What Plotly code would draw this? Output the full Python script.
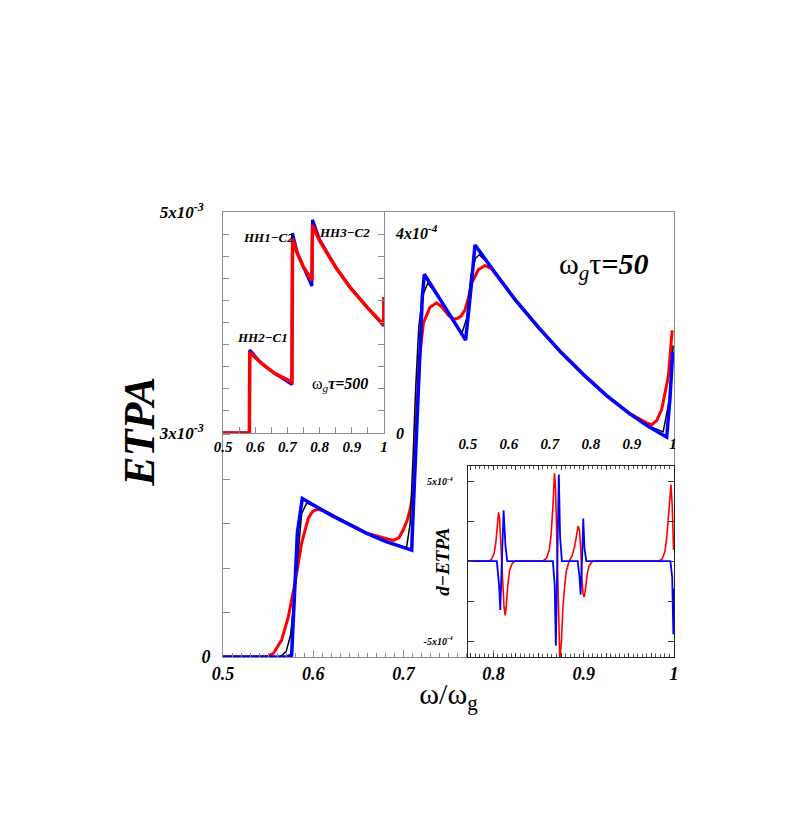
import plotly.graph_objects as go

# main panel, omega_g*tau = 50 (ETPA in units of 1e-4)
w_red = [0.50, 0.5484, 0.5558, 0.565, 0.5724, 0.5798, 0.5872, 0.5946, 0.599, 0.6039, 0.610, 0.620,
         0.640, 0.6593, 0.6814, 0.6888, 0.6950, 0.6999, 0.7040, 0.7073, 0.7100, 0.7120, 0.7140,
         0.7173, 0.7221, 0.7295, 0.7369, 0.7430, 0.7498, 0.7550, 0.7591, 0.7640, 0.7683, 0.7720,
         0.7757, 0.7830, 0.7905, 0.7980, 0.8250, 0.850, 0.875, 0.900, 0.925, 0.950,
         0.9697, 0.9753, 0.9810, 0.9863, 0.9937, 0.998]
etpa_red = [0, 0, 0.04, 0.19, 0.45, 0.83, 1.28, 1.56, 1.63, 1.66, 1.65, 1.60,
            1.49, 1.39, 1.33, 1.31, 1.34, 1.43, 1.53, 1.65, 1.80, 2.00, 2.55,
            3.30, 3.75, 3.93, 3.98, 3.93, 3.84, 3.80, 3.80, 3.83, 3.90, 4.03,
            4.20, 4.35, 4.40, 4.36, 4.00, 3.70, 3.42, 3.17, 2.94, 2.74,
            2.63, 2.61, 2.66, 2.78, 3.15, 3.67]

w_black = [0.50, 0.563, 0.570, 0.575, 0.578, 0.5835, 0.5872, 0.5928, 0.600, 0.6223, 0.640, 0.6593,
           0.680, 0.700, 0.7036, 0.7075, 0.7105, 0.7135, 0.717, 0.721, 0.727, 0.735, 0.755, 0.765,
           0.770, 0.775, 0.780, 0.784, 0.792, 0.825, 0.850, 0.875, 0.900, 0.925, 0.950, 0.970,
           0.978, 0.988, 0.995, 0.999]
etpa_black = [0, 0, 0.06, 0.25, 0.57, 1.17, 1.61, 1.73, 1.70, 1.58, 1.49, 1.39,
              1.30, 1.24, 1.24, 1.50, 2.20, 3.00, 3.70, 4.05, 4.20, 4.10, 3.78, 3.64,
              3.80, 4.30, 4.48, 4.52, 4.44, 4.00, 3.70, 3.42, 3.17, 2.94, 2.74, 2.60,
              2.57, 2.53, 2.90, 3.50]

w_blue = [0.50, 0.570, 0.5761, 0.5790, 0.5825, 0.5879, 0.6050, 0.6223, 0.6400, 0.6593, 0.6800, 0.7000,
          0.7092, 0.7103, 0.7140, 0.7175, 0.7210, 0.7232, 0.7400, 0.7550, 0.7690, 0.7745, 0.7794,
          0.8000, 0.8250, 0.8500, 0.8750, 0.9000, 0.9250, 0.9500, 0.9700, 0.9919, 0.9955, 0.9986]
etpa_blue = [0, 0, 0.02, 0.60, 1.40, 1.78, 1.68, 1.58, 1.49, 1.39, 1.30, 1.23,
             1.20, 1.50, 2.40, 3.30, 4.05, 4.30, 4.03, 3.79, 3.56, 4.10, 4.63,
             4.34, 4.00, 3.70, 3.42, 3.17, 2.94, 2.74, 2.60, 2.47, 2.90, 3.43]

# upper-left inset, omega_g*tau = 500 (units of 1e-3)
w_in = [0.50, 0.582, 0.583, 0.620, 0.660, 0.714, 0.716, 0.730, 0.750, 0.776, 0.778,
        0.800, 0.850, 0.894, 0.950, 0.999, 1.000]
etpa_in_red = [3.00, 3.00, 3.73, 3.63, 3.54, 3.46, 4.76, 4.63, 4.50, 4.38, 4.88,
               4.74, 4.50, 4.32, 4.13, 3.98, 4.23]
etpa_in_blue = [3.00, 3.00, 3.75, 3.63, 3.54, 3.44, 4.81, 4.64, 4.50, 4.33, 4.93,
                4.75, 4.50, 4.32, 4.13, 3.97, 4.23]

# lower-right inset, d-ETPA (units of 1e-4)
w_d_red = [0.772, 0.795, 0.798, 0.801, 0.803, 0.8045, 0.8059, 0.807, 0.808, 0.809, 0.810, 0.811,
           0.812, 0.8133, 0.8145, 0.816, 0.818, 0.821, 0.824,
           0.855, 0.859, 0.862, 0.864, 0.866, 0.8678, 0.869, 0.870, 0.8715, 0.8737, 0.8755,
           0.877, 0.879, 0.881, 0.884, 0.887, 0.890, 0.892, 0.894, 0.8955, 0.897, 0.898,
           0.8993, 0.9007, 0.902, 0.904, 0.906, 0.910,
           0.983, 0.987, 0.990, 0.992, 0.994, 0.9955, 0.9967, 0.998, 0.9995]
d_red = [0, 0, 0.1, 0.5, 1.2, 2.2, 3.06, 2.7, 1.6, 0.5, -0.5, -1.8,
         -2.9, -3.4, -2.8, -1.6, -0.6, -0.15, 0,
         0, 0.2, 0.7, 1.6, 3.4, 5.5, 4.5, 2.5, -2.0, -6.2, -5.0,
         -3.0, -1.6, -0.6, 0, 0.3, 0.9, 1.6, 2.2, 1.9, 0.6, -1.0,
         -2.0, -2.25, -1.8, -0.8, -0.3, 0,
         0, 0.15, 0.6, 1.5, 3.0, 4.2, 4.8, 3.5, 0.7]
w_d_blue = [0.772, 0.804, 0.8065, 0.8078, 0.809, 0.810, 0.8115, 0.8135, 0.8155,
            0.866, 0.868, 0.8693, 0.8705, 0.8715, 0.8726, 0.874, 0.876,
            0.8935, 0.8955, 0.8967, 0.898, 0.8985, 0.8996, 0.901, 0.903,
            0.996, 0.998, 0.9993, 1.0]
d_blue = [0, 0, -1.5, -3.06, -1.0, 1.0, 3.19, 1.0, 0,
          0, -1.5, -5.29, -1.0, 1.5, 5.42, 1.5, 0,
          0, -1.0, -2.1, -0.5, 0.5, 2.67, 0.8, 0,
          0, -1.0, -4.58, -1.71]

x_ticks = [0.5, 0.6, 0.7, 0.8, 0.9, 1.0]
x_ticktext = ['0.5', '0.6', '0.7', '0.8', '0.9', '1']

serif = 'Liberation Serif'
bi = dict(family=serif, color='black', weight='bold', style='italic')
grey = '#8c8c8c'

fig = go.Figure()

fig.add_trace(go.Scatter(x=w_red, y=etpa_red, mode='lines', line=dict(color='#ff0000', width=3)))
fig.add_trace(go.Scatter(x=w_black, y=etpa_black, mode='lines', line=dict(color='black', width=1.5)))
fig.add_trace(go.Scatter(x=w_blue, y=etpa_blue, mode='lines', line=dict(color='#0000ff', width=3.5)))

fig.add_trace(go.Scatter(x=w_in, y=etpa_in_blue, mode='lines', line=dict(color='#0000ff', width=3),
                         xaxis='x2', yaxis='y2'))
fig.add_trace(go.Scatter(x=w_in, y=etpa_in_red, mode='lines', line=dict(color='#ff0000', width=3.5),
                         xaxis='x2', yaxis='y2'))

fig.add_trace(go.Scatter(x=w_d_red, y=d_red, mode='lines', line=dict(color='#ff0000', width=1.6),
                         xaxis='x3', yaxis='y3'))
fig.add_trace(go.Scatter(x=w_d_blue, y=d_blue, mode='lines', line=dict(color='#0000ff', width=1.8),
                         xaxis='x3', yaxis='y3'))

fig.add_trace(go.Scatter(x=[], y=[], xaxis='x4', yaxis='y4'))

main_y_ticks = [0, 0.5, 1.0, 1.5, 2.0, 2.5]
in_y_ticks = [3.0, 3.2, 3.4, 3.6, 3.8, 4.0, 4.2, 4.4, 4.6, 4.8, 5.0]
d_y_ticks = [-5, -2.5, 0, 2.5, 5]

# the page body adds 8px around the figure
fig.update_layout(
    width=774, height=801,
    margin=dict(l=215, r=108, t=204, b=152),
    plot_bgcolor='rgba(0,0,0,0)', paper_bgcolor='white',
    showlegend=False,
    xaxis=dict(domain=[0, 1], anchor='y', range=[0.5, 1.0],
               tickvals=x_ticks, ticktext=x_ticktext, ticks='inside', ticklen=7,
               tickcolor=grey, minor=dict(dtick=0.01, tick0=0.5, ticks='inside', ticklen=4, tickcolor=grey),
               showline=True, linecolor=grey, linewidth=1, mirror=True,
               showgrid=False, zeroline=False, tickfont=dict(size=18, **bi),
               title=dict(text='ω/ω<sub>g</sub>', font=dict(family=serif, size=30, color='black'),
                          standoff=0)),
    yaxis=dict(domain=[0, 1], anchor='x', range=[0, 5],
               tickvals=main_y_ticks, ticktext=['0', '', '', '', '', ''],
               ticks='inside', ticklen=7, tickcolor=grey,
               showline=True, linecolor=grey, linewidth=1, mirror=True,
               showgrid=False, zeroline=False, tickfont=dict(size=18, **bi),
               ticklabelstandoff=8),
    xaxis2=dict(domain=[0, 0.357], anchor='y2', range=[0.5, 1.0],
                tickvals=x_ticks, ticktext=x_ticktext, ticks='inside', ticklen=6, tickcolor=grey,
                minor=dict(dtick=0.05, tick0=0.5, ticks='inside', ticklen=6, tickcolor=grey),
                showline=True, linecolor=grey, linewidth=1, mirror=True,
                showgrid=False, zeroline=False, tickfont=dict(size=15, **bi)),
    yaxis2=dict(domain=[0.5034, 1], anchor='x2', range=[3, 5],
                tickvals=in_y_ticks,
                ticktext=['3x10<sup>-3</sup>'] + [''] * 9 + ['5x10<sup>-3</sup>'],
                ticks='inside', ticklen=6, tickcolor=grey,
                showline=True, linecolor=grey, linewidth=1, mirror='ticks',
                showgrid=False, zeroline=False, tickfont=dict(size=17, **bi),
                ticklabelstandoff=15),
    xaxis3=dict(domain=[0.543, 1], anchor='y3', range=[0.772, 1.0],
                dtick=0.025, tick0=0.775, ticks='inside', ticklen=4, tickcolor='#333',
                minor=dict(dtick=0.005, tick0=0.775, ticks='inside', ticklen=3, tickcolor='#555'),
                showticklabels=False, showline=True, linecolor='#222', linewidth=1.2, mirror='ticks',
                showgrid=False, zeroline=False),
    yaxis3=dict(domain=[0, 0.429], anchor='x3', range=[-6, 5.95],
                tickvals=d_y_ticks,
                ticktext=['-5x10<sup>-4</sup>', '', '', '', '5x10<sup>-4</sup>'],
                ticks='inside', ticklen=6, tickcolor='#333',
                showline=True, linecolor='#222', linewidth=1.2, mirror='ticks',
                showgrid=False, zeroline=False, tickfont=dict(size=10, **bi),
                ticklabelstandoff=12),
    xaxis4=dict(domain=[0.359, 1], anchor='y4', range=[0.2976, 1.0024],
                tickvals=x_ticks, ticktext=x_ticktext, ticks='', showline=False,
                showgrid=False, zeroline=False, tickfont=dict(size=15, **bi)),
    yaxis4=dict(domain=[0.5034, 1], anchor='x4', range=[0, 4.42],
                tickvals=[0, 4], ticktext=['0', '4x10<sup>-4</sup>'], ticks='',
                ticklabelposition='inside', ticklabeloverflow='allow', ticklabelstandoff=8,
                showline=False, showgrid=False, zeroline=False,
                tickfont=dict(size=16, **bi)),
)

fig.add_annotation(text='ETPA', xref='paper', yref='paper', x=-0.184, y=0.506,
                   xanchor='center', yanchor='middle',
                   textangle=-90, showarrow=False, font=dict(size=44, **bi))
fig.add_annotation(text='d−ETPA', xref='paper', yref='paper', x=0.488, y=0.214,
                   xanchor='center', yanchor='middle',
                   textangle=-90, showarrow=False, font=dict(size=19, **bi))
fig.add_annotation(text='ω<sub><i>g</i></sub>τ<b><i>=50</i></b>', xref='paper', yref='paper',
                   x=0.741, y=0.878, xanchor='left', yanchor='middle', showarrow=False,
                   font=dict(family=serif, size=30, color='black'))
fig.add_annotation(text='ω<sub><i>g</i></sub><b><i>τ=500</i></b>', xref='paper', yref='paper',
                   x=0.193, y=0.612, xanchor='left', yanchor='middle', showarrow=False,
                   font=dict(family=serif, size=16, color='black'))
fig.add_annotation(text='HH2−C1', xref='paper', yref='paper', x=0.0865, y=0.719,
                   xanchor='center', yanchor='middle',
                   showarrow=False, font=dict(size=13, **bi))
fig.add_annotation(text='HH1−C2', xref='paper', yref='paper', x=0.0998, y=0.9416,
                   xanchor='center', yanchor='middle',
                   showarrow=False, font=dict(size=13, **bi))
fig.add_annotation(text='HH3−C2', xref='paper', yref='paper', x=0.2705, y=0.955,
                   xanchor='center', yanchor='middle',
                   showarrow=False, font=dict(size=13, **bi))

fig.write_html("out.html")
